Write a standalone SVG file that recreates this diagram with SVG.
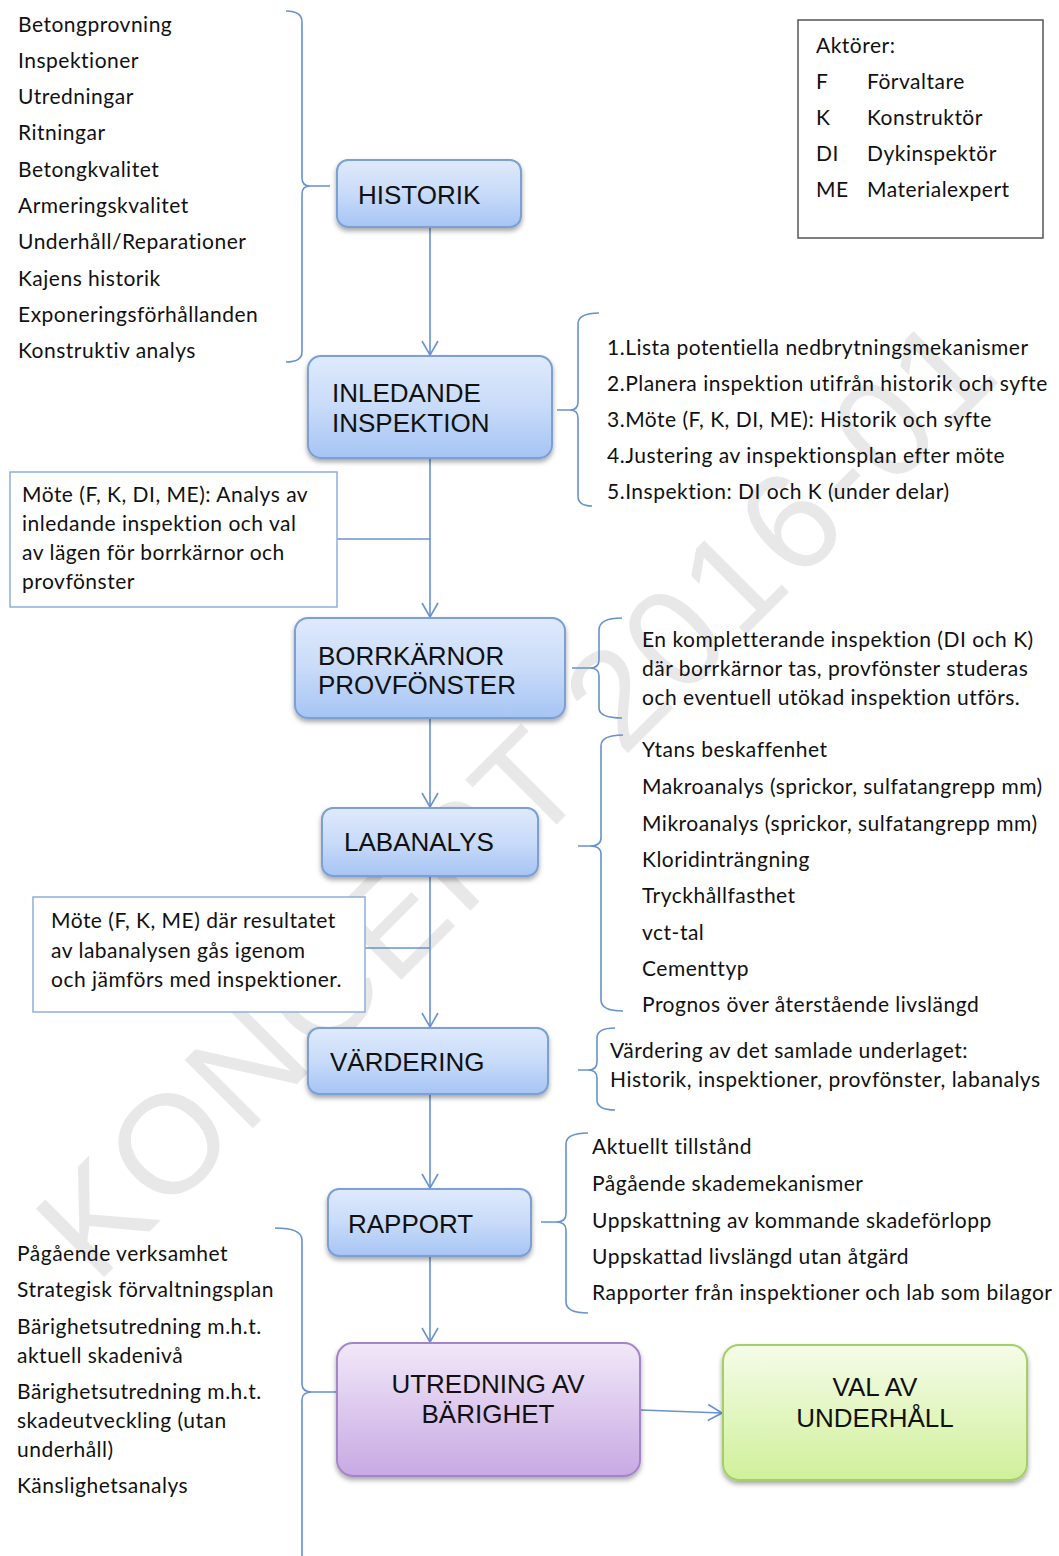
<svg xmlns="http://www.w3.org/2000/svg" width="1059" height="1556" viewBox="0 0 1059 1556">
<style>
.t{font-family:Lato,"Liberation Sans",sans-serif;font-size:21px;letter-spacing:0.5px;fill:#111}
.b{font-family:"Liberation Sans",Arial,sans-serif;font-size:26px;fill:#111}
.c{fill:none;stroke:#6792cf;stroke-width:1.6}
.note{fill:#fff;stroke:#8eaedb;stroke-width:1.5}
.wm{font-family:"Liberation Sans",Arial,sans-serif;font-size:140px;letter-spacing:4px;fill:#e8e8e8}
</style>
<defs>
<linearGradient id="gb" x1="0" y1="0" x2="0" y2="1"><stop offset="0" stop-color="#dfeafc"/><stop offset="0.5" stop-color="#c8dbf9"/><stop offset="1" stop-color="#a6c4f4"/></linearGradient>
<linearGradient id="gp" x1="0" y1="0" x2="0" y2="1"><stop offset="0" stop-color="#f1e8f8"/><stop offset="1" stop-color="#c8a9e4"/></linearGradient>
<linearGradient id="gg" x1="0" y1="0" x2="0" y2="1"><stop offset="0" stop-color="#f5fce8"/><stop offset="1" stop-color="#d0f09a"/></linearGradient>
<filter id="sh" x="-10%" y="-10%" width="120%" height="130%"><feDropShadow dx="0" dy="3" stdDeviation="2.5" flood-color="#000" flood-opacity="0.35"/></filter>
<marker id="ar" viewBox="0 0 16 18" refX="15" refY="9" markerWidth="16" markerHeight="18" markerUnits="userSpaceOnUse" orient="auto"><path d="M1,1 L15,9 L1,17" fill="none" stroke="#6792cf" stroke-width="1.6"/></marker>
</defs>
<rect width="1059" height="1556" fill="#fff"/>
<text class="wm" transform="translate(96,1285) rotate(-45)">KONCEPT 2016-01</text>

<g id="connectors">
<line class="c" x1="430" y1="227" x2="430" y2="355" marker-end="url(#ar)"/>
<line class="c" x1="430" y1="458" x2="430" y2="617" marker-end="url(#ar)"/>
<line class="c" x1="337" y1="539" x2="430" y2="539"/>
<line class="c" x1="430" y1="718" x2="430" y2="807" marker-end="url(#ar)"/>
<line class="c" x1="430" y1="876" x2="430" y2="1027" marker-end="url(#ar)"/>
<line class="c" x1="365" y1="948" x2="430" y2="948"/>
<line class="c" x1="430" y1="1094" x2="430" y2="1188" marker-end="url(#ar)"/>
<line class="c" x1="430" y1="1256" x2="430" y2="1342" marker-end="url(#ar)"/>
<line class="c" x1="641" y1="1410" x2="722" y2="1413" marker-end="url(#ar)"/>
<path class="c" d="M286,11 Q302,11 302,22 L302,178 Q302,186 310,186 L330,186 M310,186 Q302,186 302,194 L302,352 Q302,362 286,362"/>
<path class="c" d="M599,313 Q578,313 578,324 L578,402 Q578,410 570,410 L557,410 M570,410 Q578,410 578,418 L578,496 Q578,506 592,506"/>
<path class="c" d="M622,618 Q599,618 599,630 L599,660 Q599,668 590,668 L572,668 M590,668 Q599,668 599,676 L599,708 Q599,718 622,718"/>
<path class="c" d="M623,735 Q601,735 601,746 L601,838 Q601,846 590,846 L578,846 M590,846 Q601,846 601,854 L601,1000 Q601,1011 623,1011"/>
<path class="c" d="M615,1028 Q597,1028 597,1038 L597,1062 Q597,1070 588,1070 L578,1070 M588,1070 Q597,1070 597,1078 L597,1100 Q597,1110 615,1110"/>
<path class="c" d="M588,1133 Q566,1133 566,1144 L566,1214 Q566,1222 556,1222 L541,1222 M556,1222 Q566,1222 566,1230 L566,1302 Q566,1313 588,1313"/>
<path class="c" d="M275,1228 Q302,1228 302,1240 L302,1384 Q302,1392 312,1392 L336,1392 M312,1392 Q302,1392 302,1400 L302,1556"/>
</g>

<g id="historik-list">
<text class="t" x="18" y="32">Betongprovning</text>
<text class="t" x="18" y="68">Inspektioner</text>
<text class="t" x="18" y="104">Utredningar</text>
<text class="t" x="18" y="140">Ritningar</text>
<text class="t" x="18" y="177">Betongkvalitet</text>
<text class="t" x="18" y="213">Armeringskvalitet</text>
<text class="t" x="18" y="249">Underhåll/Reparationer</text>
<text class="t" x="18" y="286">Kajens historik</text>
<text class="t" x="18" y="322">Exponeringsförhållanden</text>
<text class="t" x="18" y="358">Konstruktiv analys</text>
</g>

<g id="aktorer">
<rect x="798" y="20" width="245" height="218" fill="#fff" stroke="#555" stroke-width="1.5"/>
<text class="t" x="816" y="53">Aktörer:</text>
<text class="t" x="816" y="89">F</text><text class="t" x="867" y="89">Förvaltare</text>
<text class="t" x="816" y="125">K</text><text class="t" x="867" y="125">Konstruktör</text>
<text class="t" x="816" y="161">DI</text><text class="t" x="867" y="161">Dykinspektör</text>
<text class="t" x="816" y="197">ME</text><text class="t" x="867" y="197">Materialexpert</text>
</g>

<g id="historik">
<rect x="337" y="160" width="184" height="67" rx="11" fill="url(#gb)" stroke="#7b9fd4" stroke-width="2" filter="url(#sh)"/>
<text class="b" x="358" y="204">HISTORIK</text>
</g>

<g id="inledande">
<rect x="308" y="356" width="244" height="102" rx="13" fill="url(#gb)" stroke="#7b9fd4" stroke-width="2" filter="url(#sh)"/>
<text class="b" x="332" y="402">INLEDANDE</text>
<text class="b" x="332" y="432">INSPEKTION</text>
</g>

<g id="inledande-list">
<text class="t" x="607" y="355">1.Lista potentiella nedbrytningsmekanismer</text>
<text class="t" x="607" y="391">2.Planera inspektion utifrån historik och syfte</text>
<text class="t" x="607" y="427">3.Möte (F, K, DI, ME): Historik och syfte</text>
<text class="t" x="607" y="463">4.Justering av inspektionsplan efter möte</text>
<text class="t" x="607" y="499">5.Inspektion: DI och K (under delar)</text>
</g>

<g id="mote1">
<rect class="note" x="10" y="472" width="327" height="135"/>
<text class="t" x="22" y="502">Möte (F, K, DI, ME): Analys av</text>
<text class="t" x="22" y="531">inledande inspektion och val</text>
<text class="t" x="22" y="560">av lägen för borrkärnor och</text>
<text class="t" x="22" y="589">provfönster</text>
</g>

<g id="borrkarnor">
<rect x="295" y="618" width="270" height="100" rx="13" fill="url(#gb)" stroke="#7b9fd4" stroke-width="2" filter="url(#sh)"/>
<text class="b" x="318" y="665">BORRKÄRNOR</text>
<text class="b" x="318" y="694">PROVFÖNSTER</text>
</g>

<g id="borr-text">
<text class="t" x="642" y="647">En kompletterande inspektion (DI och K)</text>
<text class="t" x="642" y="676">där borrkärnor tas, provfönster studeras</text>
<text class="t" x="642" y="705">och eventuell utökad inspektion utförs.</text>
</g>

<g id="labanalys">
<rect x="322" y="808" width="216" height="68" rx="11" fill="url(#gb)" stroke="#7b9fd4" stroke-width="2" filter="url(#sh)"/>
<text class="b" x="344" y="851">LABANALYS</text>
</g>

<g id="lab-list">
<text class="t" x="642" y="757">Ytans beskaffenhet</text>
<text class="t" x="642" y="794">Makroanalys (sprickor, sulfatangrepp mm)</text>
<text class="t" x="642" y="831">Mikroanalys (sprickor, sulfatangrepp mm)</text>
<text class="t" x="642" y="867">Kloridinträngning</text>
<text class="t" x="642" y="903">Tryckhållfasthet</text>
<text class="t" x="642" y="940">vct-tal</text>
<text class="t" x="642" y="976">Cementtyp</text>
<text class="t" x="642" y="1012">Prognos över återstående livslängd</text>
</g>

<g id="mote2">
<rect class="note" x="33" y="897" width="332" height="115"/>
<text class="t" x="51" y="928">Möte (F, K, ME) där resultatet</text>
<text class="t" x="51" y="958">av labanalysen gås igenom</text>
<text class="t" x="51" y="987">och jämförs med inspektioner.</text>
</g>

<g id="vardering">
<rect x="308" y="1028" width="240" height="66" rx="11" fill="url(#gb)" stroke="#7b9fd4" stroke-width="2" filter="url(#sh)"/>
<text class="b" x="330" y="1071">VÄRDERING</text>
</g>

<g id="vardering-text">
<text class="t" x="610" y="1058">Värdering av det samlade underlaget:</text>
<text class="t" x="610" y="1087">Historik, inspektioner, provfönster, labanalys</text>
</g>

<g id="rapport">
<rect x="328" y="1189" width="203" height="67" rx="11" fill="url(#gb)" stroke="#7b9fd4" stroke-width="2" filter="url(#sh)"/>
<text class="b" x="348" y="1233">RAPPORT</text>
</g>

<g id="rapport-list">
<text class="t" x="592" y="1154">Aktuellt tillstånd</text>
<text class="t" x="592" y="1191">Pågående skademekanismer</text>
<text class="t" x="592" y="1228">Uppskattning av kommande skadeförlopp</text>
<text class="t" x="592" y="1264">Uppskattad livslängd utan åtgärd</text>
<text class="t" x="592" y="1300">Rapporter från inspektioner och lab som bilagor</text>
</g>

<g id="utredning-list">
<text class="t" x="17" y="1261">Pågående verksamhet</text>
<text class="t" x="17" y="1297">Strategisk förvaltningsplan</text>
<text class="t" x="17" y="1334">Bärighetsutredning m.h.t.</text>
<text class="t" x="17" y="1363">aktuell skadenivå</text>
<text class="t" x="17" y="1399">Bärighetsutredning m.h.t.</text>
<text class="t" x="17" y="1428">skadeutveckling (utan</text>
<text class="t" x="17" y="1457">underhåll)</text>
<text class="t" x="17" y="1493">Känslighetsanalys</text>
</g>

<g id="utredning">
<rect x="337" y="1343" width="303" height="133" rx="16" fill="url(#gp)" stroke="#a486c7" stroke-width="2" filter="url(#sh)"/>
<text class="b" x="488" y="1393" text-anchor="middle">UTREDNING AV</text>
<text class="b" x="488" y="1423" text-anchor="middle">BÄRIGHET</text>
</g>

<g id="val">
<rect x="723" y="1345" width="304" height="135" rx="16" fill="url(#gg)" stroke="#a4ce68" stroke-width="2" filter="url(#sh)"/>
<text class="b" x="875" y="1396" text-anchor="middle">VAL AV</text>
<text class="b" x="875" y="1427" text-anchor="middle">UNDERHÅLL</text>
</g>
</svg>
